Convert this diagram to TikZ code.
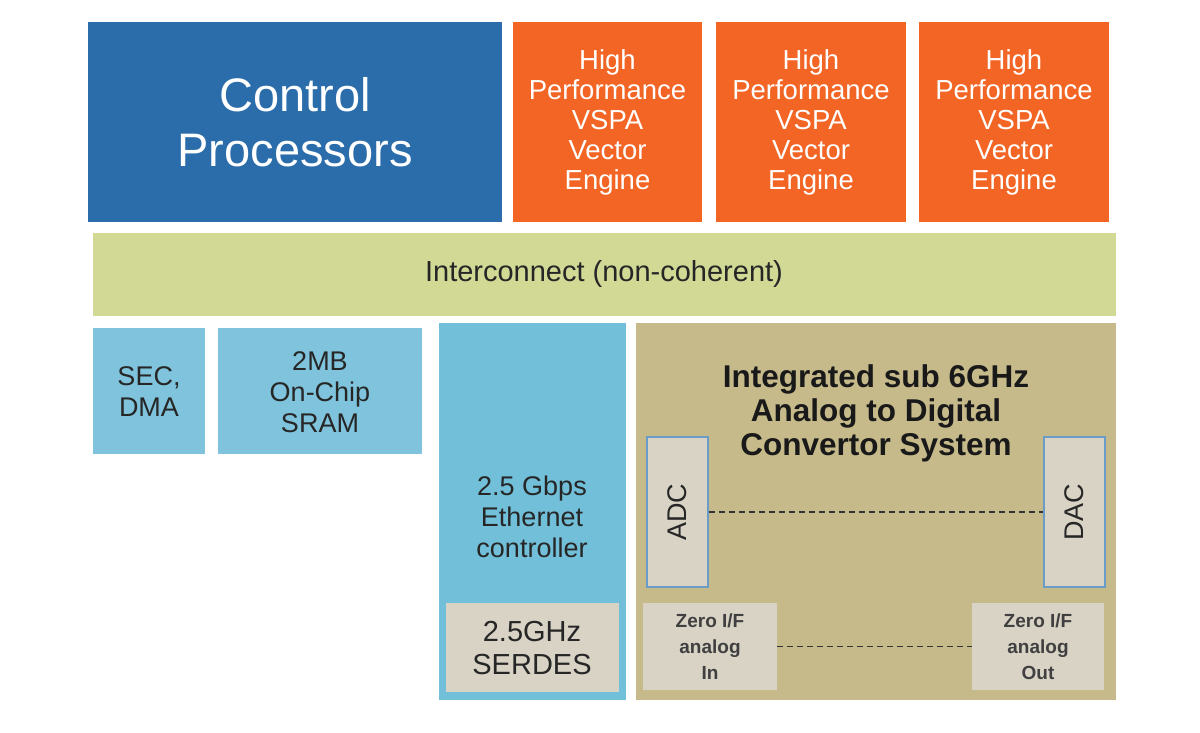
\documentclass[tikz,border=0pt]{standalone}
\usepackage{fontspec}
\setmainfont{Liberation Sans}
\begin{document}
\begin{tikzpicture}[x=1pt,y=-1pt,
 txt/.style={align=center,inner sep=0pt},
 dsh/.style={line width=1.3pt,dash pattern=on 6pt off 4pt,black!80}]
\definecolor{cpblue}{HTML}{2A6DAA}
\definecolor{vorange}{HTML}{F26524}
\definecolor{icgreen}{HTML}{D2D995}
\definecolor{lblue}{HTML}{7FC4DC}
\definecolor{eblue}{HTML}{72BFD9}
\definecolor{lgray}{HTML}{D9D3C6}
\definecolor{tan}{HTML}{C6BA8B}
\definecolor{bord}{HTML}{6A9CC8}
\useasboundingbox (0,0) rectangle (1200,732);
\fill[white] (0,0) rectangle (1200,732);
\fill[cpblue] (88,22) rectangle (502,222);
\node[txt,text=white,font=\fontsize{47}{55}\selectfont] (cp) at (295,122) {Control\\Processors};
\foreach \a/\b/\n in {513/702/v1,716/906/v2,919/1109/v3}{
 \fill[vorange] (\a,22) rectangle (\b,222);
 \node[txt,text=white,font=\fontsize{27.5}{30}\selectfont] (\n) at ({(\a+\b)/2},122) {High\\Performance\\VSPA\\Vector\\Engine};
}
\fill[icgreen] (93,233) rectangle (1116,316);
\node[txt,font=\fontsize{29}{30}\selectfont,text=black!85] (ic) at (604,274) {Interconnect (non-coherent)};
\fill[lblue] (93,328) rectangle (205,454);
\node[txt,font=\fontsize{27}{31}\selectfont,text=black!85] (sec) at (149,392) {SEC,\\DMA};
\fill[lblue] (218,328) rectangle (422,454);
\node[txt,font=\fontsize{27}{31}\selectfont,text=black!85] (sram) at (320,392) {2MB\\On-Chip\\SRAM};
\fill[eblue] (439,323) rectangle (626,700);
\node[txt,font=\fontsize{27}{31}\selectfont,text=black!85] (eth) at (532,517) {2.5 Gbps\\Ethernet\\controller};
\fill[lgray] (446,603) rectangle (619,692);
\node[txt,font=\fontsize{29}{33}\selectfont,text=black!85] (serdes) at (532,648) {2.5GHz\\SERDES};
\fill[tan] (636,323) rectangle (1116,700);
\node[txt,font=\bfseries\fontsize{31.5}{34}\selectfont,text=black!90] (title) at (876,413) {Integrated sub 6GHz\\Analog to Digital\\Convertor System};
\node[draw=bord,line width=1.2pt,fill=lgray,minimum width=61pt,minimum height=150pt,inner sep=0pt] (adc) at (677.5,512) {};
\node[rotate=90,font=\fontsize{27}{30}\selectfont,text=black!85] at (adc.center) {ADC};
\node[draw=bord,line width=1.2pt,fill=lgray,minimum width=61pt,minimum height=150pt,inner sep=0pt] (dac) at (1074.5,512) {};
\node[rotate=90,font=\fontsize{27}{30}\selectfont,text=black!85] at (dac.center) {DAC};
\node[fill=lgray,minimum width=134pt,minimum height=87pt,inner sep=0pt,align=center,font=\bfseries\fontsize{19}{26}\selectfont,text=black!75] (zin) at (710,646.5) {Zero I/F\\analog\\In};
\node[fill=lgray,minimum width=132pt,minimum height=87pt,inner sep=0pt,align=center,font=\bfseries\fontsize{19}{26}\selectfont,text=black!75] (zout) at (1038,646.5) {Zero I/F\\analog\\Out};
\draw[dsh] (adc.east) -- (dac.west);
\draw[dsh] (zin.east) -- (zout.west);
\end{tikzpicture}
\end{document}
